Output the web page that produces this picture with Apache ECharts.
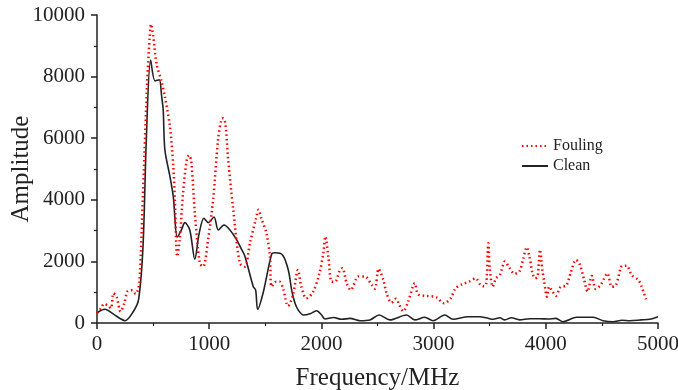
<!DOCTYPE html>
<html>
<head>
<meta charset="utf-8">
<script src="https://cdn.jsdelivr.net/npm/echarts@6/dist/echarts.min.js"></script>
<style>html,body{margin:0;padding:0;background:#fff;}#c{width:678px;height:390px;}</style>
</head>
<body>
<div id="c"></div>
<script>
const xTicks = [0, 1000, 2000, 3000, 4000, 5000];
const yTicks = [0, 2000, 4000, 6000, 8000, 10000];

const foulingFreq = [0,36,62,95,125,146,175,210,243,270,302,345,377,412,448,470,481,500,531,575,605,650,680,694,715,737,767,800,820,840,872,916,946,990,1035,1079,1109,1126,1145,1169,1214,1273,1318,1363,1414,1440,1464,1510,1541,1556,1598,1628,1660,1702,1747,1791,1821,1866,1925,1982,2017,2035,2062,2091,2121,2165,2188,2225,2262,2329,2388,2448,2477,2510,2552,2581,2625,2665,2694,2730,2773,2832,2862,2936,3024,3093,3152,3196,3256,3315,3374,3418,3452,3470,3488,3500,3527,3556,3591,3636,3674,3721,3765,3800,3830,3852,3882,3905,3927,3948,3970,3986,4010,4030,4060,4090,4134,4178,4223,4268,4298,4342,4372,4410,4446,4490,4549,4588,4624,4684,4720,4765,4824,4854,4893];
const foulingAmp = [315,480,620,570,480,965,850,370,640,1020,1070,945,1310,4440,7890,9300,9700,9350,8400,7850,7350,6380,5080,4000,2160,2700,4220,5300,5450,5250,3570,1940,1830,2700,4000,5960,6610,6650,6450,5310,3680,1940,1830,2590,3350,3680,3400,2920,2160,1180,1340,1340,1100,550,910,1720,1180,800,1000,1610,2270,2810,2150,1340,1340,1720,1780,1290,1070,1510,1510,1240,1110,1760,1400,965,660,790,590,380,695,1290,930,880,835,640,800,1130,1260,1340,1450,1240,1190,1300,2590,1800,1180,1450,1560,2000,1800,1600,1670,2100,2460,2200,1610,1450,1500,2380,1700,1340,855,1180,1020,880,1180,1200,1640,2050,1950,1400,1020,1530,1100,1240,1610,1180,1220,1860,1860,1560,1400,1180,770];

const cleanFreq = [0,70,150,250,320,370,410,440,478,517,555,575,590,605,650,680,715,750,783,827,872,910,953,992,1043,1081,1132,1183,1245,1290,1319,1393,1414,1432,1482,1557,1587,1654,1705,1735,1765,1794,1839,1898,1957,2002,2032,2106,2180,2255,2344,2433,2515,2610,2758,2832,2921,2995,3099,3173,3307,3411,3470,3530,3590,3634,3693,3767,3856,3945,4021,4090,4154,4274,4422,4510,4599,4680,4748,4850,4926,5000];
const cleanAmp = [330,445,280,75,350,750,2480,6000,8540,7860,7900,7400,6920,5620,4760,4100,2790,3000,3260,3020,2070,2900,3400,3260,3440,3020,3180,3030,2700,2380,2160,1180,1070,445,1000,2240,2280,2210,1720,1070,640,420,260,300,400,260,130,180,120,150,75,100,260,100,260,100,185,75,260,120,205,205,170,120,170,100,170,100,140,140,130,150,40,185,185,75,40,90,75,100,120,205];

const zip = (xs, ys) => xs.map((x, i) => [x, ys[i]]);
const font = '"Liberation Serif", "Times New Roman", serif';
const dotted = [1.5, 3];

const chart = echarts.init(document.getElementById('c'), null, {renderer: 'canvas'});
chart.setOption({
  animation: false,
  backgroundColor: '#fff',
  grid: {left: 97, right: 20, top: 15, bottom: 67, containLabel: false, outerBoundsMode: 'none'},
  legend: {
    orient: 'vertical', left: 516, top: 133, itemGap: 4,
    itemWidth: 26, itemHeight: 10,
    itemStyle: {opacity: 0},
    textStyle: {fontFamily: font, fontSize: 16, color: '#222'},
    data: ['Fouling', 'Clean']
  },
  xAxis: {
    type: 'value', min: 0, max: 5000, interval: 1000,
    name: 'Frequency/MHz', nameLocation: 'middle', nameGap: 43, nameMoveOverlap: false,
    nameTextStyle: {fontFamily: font, fontSize: 25, color: '#222'},
    axisLine: {show: true, lineStyle: {color: '#222', width: 1.5}},
    axisTick: {show: true, inside: false, length: 6, lineStyle: {color: '#222', width: 1.5}},
    minorTick: {show: true, splitNumber: 2, length: 3, lineStyle: {color: '#222', width: 1.2}},
    splitLine: {show: false},
    axisLabel: {fontFamily: font, fontSize: 21, color: '#222', margin: 11,
      formatter: v => xTicks.includes(v) ? String(v) : ''}
  },
  yAxis: {
    type: 'value', min: 0, max: 10000, interval: 2000,
    name: 'Amplitude', nameLocation: 'middle', nameGap: 63, nameMoveOverlap: false,
    nameTextStyle: {fontFamily: font, fontSize: 25, color: '#222'},
    axisLine: {show: true, lineStyle: {color: '#222', width: 1.5}},
    axisTick: {show: true, inside: false, length: 6, lineStyle: {color: '#222', width: 1.5}},
    minorTick: {show: true, splitNumber: 2, length: 3, lineStyle: {color: '#222', width: 1.2}},
    splitLine: {show: false},
    axisLabel: {fontFamily: font, fontSize: 21, color: '#222', margin: 12,
      formatter: v => yTicks.includes(v) ? String(v) : ''}
  },
  series: [
    {
      name: 'Fouling', type: 'line', data: zip(foulingFreq, foulingAmp),
      smooth: 0.3, symbol: 'none', z: 3,
      lineStyle: {color: '#ff0000', width: 2.5, type: dotted},
      itemStyle: {color: '#ff0000'}
    },
    {
      name: 'Clean', type: 'line', data: zip(cleanFreq, cleanAmp),
      smooth: 0.3, symbol: 'none', z: 2,
      lineStyle: {color: '#222', width: 1.6},
      itemStyle: {color: '#222'}
    }
  ]
});
</script>
</body>
</html>
